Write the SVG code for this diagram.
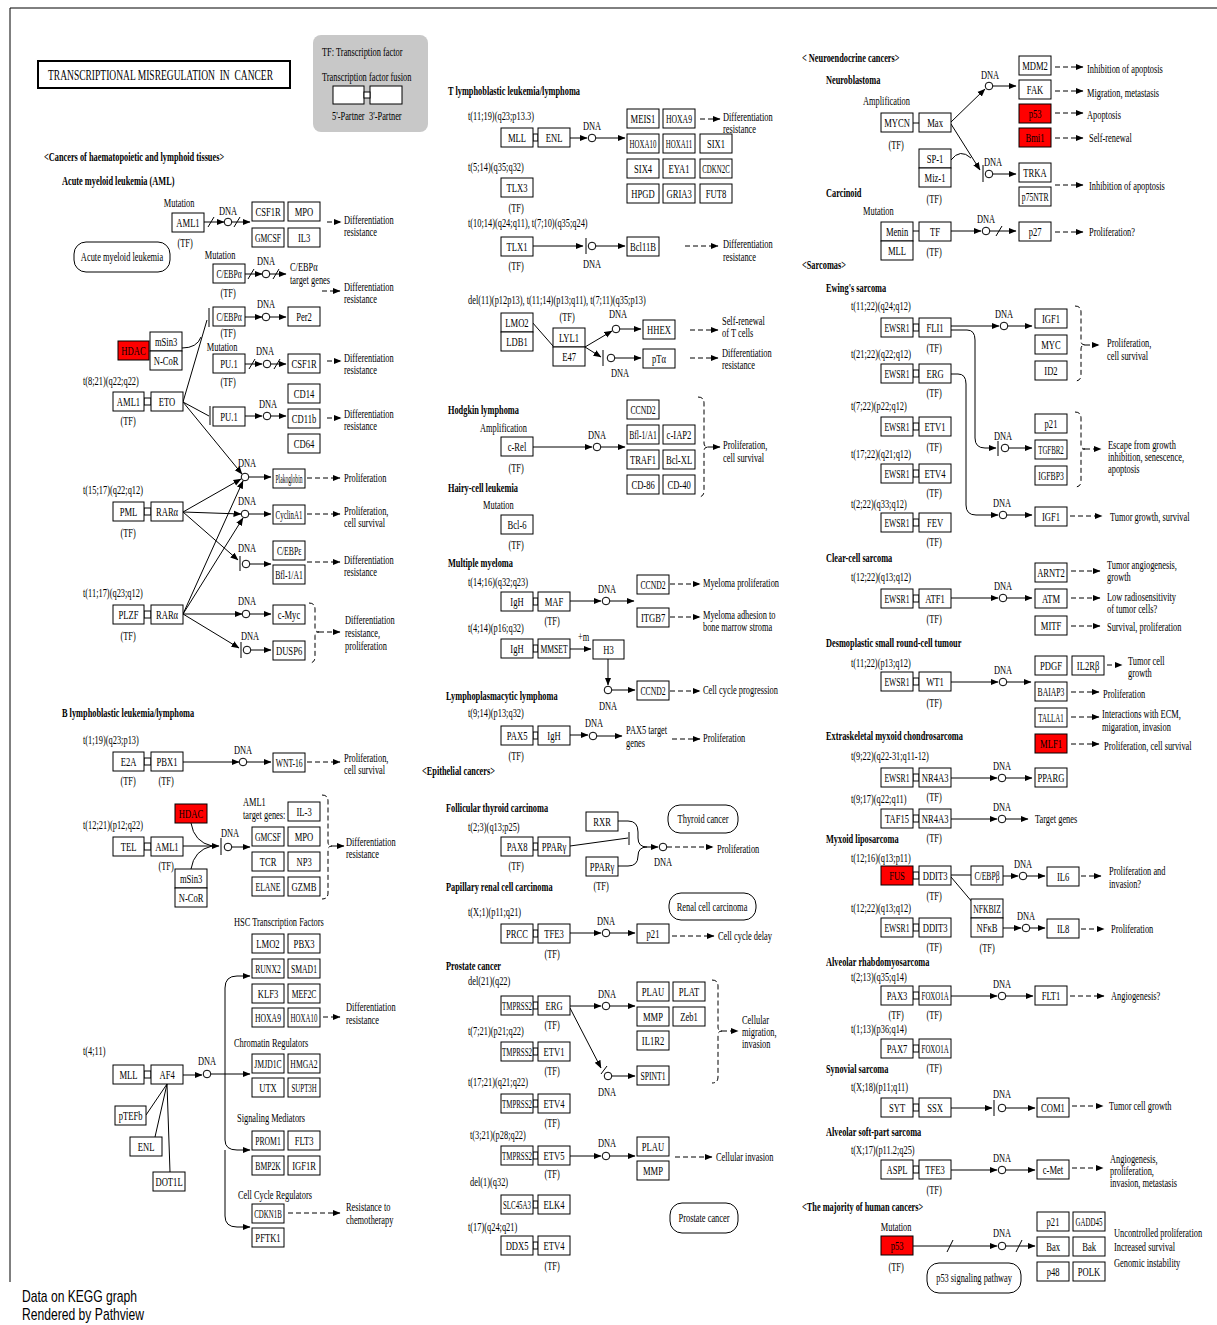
<svg xmlns="http://www.w3.org/2000/svg" width="1217" height="1325" viewBox="0 0 1217 1325">
<style>
text{font-family:"Liberation Serif","Times New Roman",serif;font-size:13px;fill:#000}
.bx{fill:#fff;stroke:#000;stroke-width:1}
.rd{fill:#f00;stroke:#000;stroke-width:1}
.g,.c{text-anchor:middle;transform-box:fill-box;transform-origin:50% 50%;transform:scaleX(.645)}
.g{transform:scaleX(.66)}
.g.k{transform:scaleX(.59)}
.g.kk{transform:scaleX(.53)}
.g.kkk{transform:scaleX(.43)}
.t{transform-box:fill-box;transform-origin:0 50%;transform:scaleX(.645)}
.h{font-weight:bold;transform-box:fill-box;transform-origin:0 50%;transform:scaleX(.64)}
.ttl{font-size:15px;transform-box:fill-box;transform-origin:0 50%;transform:scaleX(.635)}
.ln{fill:none;stroke:#000;stroke-width:1}
.ar{fill:none;stroke:#000;stroke-width:1;marker-end:url(#ah)}
.da{fill:none;stroke:#000;stroke-width:1;stroke-dasharray:5 3;marker-end:url(#ah)}
.br{fill:none;stroke:#000;stroke-width:1;stroke-dasharray:5 3}
.dn{fill:#fff;stroke:#000;stroke-width:1}
.fu{fill:#fff;stroke:#000;stroke-width:1}
.pill{fill:#fff;stroke:#000;stroke-width:1}
</style>
<defs>
<marker id="ah" viewBox="0 0 8 8" markerWidth="8" markerHeight="8" refX="7.5" refY="4" orient="auto" markerUnits="userSpaceOnUse"><path d="M0,0.8 L8,4 L0,7.2z" fill="#000"/></marker>
</defs>
<rect width="1217" height="1325" fill="#fff"/>
<path class="ln" d="M10,8 H1217 M10,8 V1282"/>

<!-- header: title and legend -->
<g id="title">
<rect x="38" y="61" width="252" height="27" fill="#fff" stroke="#000" stroke-width="2"/>
<text class="ttl" x="48" y="80" xml:space="preserve">TRANSCRIPTIONAL MISREGULATION  IN  CANCER</text>
</g>
<g id="legend">
<rect x="313" y="35" width="115" height="97" rx="8" fill="#c8c8c8"/>
<text class="t" x="322" y="56">TF: Transcription factor</text>
<text class="t" x="322" y="81">Transcription factor fusion</text>
<rect class="bx" x="333" y="86" width="31" height="18"/>
<rect class="bx" x="370" y="86" width="32" height="18"/>
<rect class="fu" x="364" y="92" width="6" height="6"/>
<text class="t" x="332" y="120">5'-Partner</text>
<text class="t" x="369" y="120">3'-Partner</text>
</g>

<!-- connectors -->
<g id="connectors">
<!-- AML -->
<path class="ar" d="M203,222 H224"/><path class="ln" d="M208,227 L214,217"/>
<circle class="dn" cx="228" cy="222" r="3.8"/>
<path class="ar" d="M232,222 H250"/><path class="ln" d="M234,227 L240,217"/>
<path class="da" d="M327,222 H341"/>
<path class="ar" d="M245,274 H262"/><path class="ln" d="M248,279 L254,269"/>
<circle class="dn" cx="266" cy="274" r="3.8"/>
<path class="ar" d="M270,274 H286"/><path class="ln" d="M273,279 L279,269"/>
<path class="da" d="M322,291 H340"/>
<path class="ar" d="M245,317 H262"/><circle class="dn" cx="266" cy="317" r="3.8"/><path class="ar" d="M270,317 H286"/>
<path class="ln" d="M182,348 Q197,348 201,337"/>
<path class="ln" d="M183,402 L207,320 M209,308 V327"/>
<path class="ar" d="M245,364 H262"/><path class="ln" d="M249,369 L255,359"/>
<circle class="dn" cx="267" cy="364" r="3.8"/>
<path class="ar" d="M271,364 H286"/><path class="ln" d="M274,369 L280,359"/>
<path class="da" d="M327,361 H341"/>
<path class="ln" d="M183,402 L209,416 M210,406 V425"/>
<path class="ar" d="M245,416 H262"/><circle class="dn" cx="267" cy="416" r="3.8"/><path class="ar" d="M271,416 H286"/>
<path class="da" d="M327,418 H341"/>
<path class="ar" d="M183,402 L242,474"/>
<circle class="dn" cx="245" cy="477" r="3.8"/><path class="ar" d="M249,477 H271"/>
<path class="da" d="M307,478 H340"/>
<path class="ar" d="M183,512 L241,479"/>
<path class="ar" d="M183,512 L241,514"/>
<path class="ar" d="M183,512 L238,560"/>
<circle class="dn" cx="245" cy="514" r="3.8"/><path class="ar" d="M249,514 H271"/>
<path class="da" d="M307,514 H340"/>
<path class="ln" d="M240,556 V571"/><circle class="dn" cx="246" cy="564" r="3.8"/><path class="ar" d="M250,564 H271"/>
<path class="da" d="M307,562 H340"/>
<path class="ar" d="M183,614 L243,481"/>
<path class="ar" d="M183,614 L243,518"/>
<path class="ar" d="M183,614 H242"/>
<path class="ar" d="M183,614 L239,648"/>
<circle class="dn" cx="246" cy="614" r="3.8"/><path class="ar" d="M250,614 H271"/>
<path class="ln" d="M241,642 V658"/><circle class="dn" cx="247" cy="650" r="3.8"/><path class="ar" d="M251,650 H271"/>
<path class="br" d="M309,603 Q315,603 315,609 V628 Q315,632 319,632 Q315,632 315,636 V657 Q315,663 309,663"/>
<path class="da" d="M319,632 H340"/>
<!-- B lymphoblastic -->
<path class="ar" d="M183,762 H239"/><circle class="dn" cx="243" cy="762" r="3.8"/><path class="ar" d="M247,762 H271"/>
<path class="da" d="M307,762 H340"/>
<path class="ar" d="M183,846 H219"/>
<path class="ln" d="M191,823 Q194,842 212,846 M191,869 Q194,850 212,846 M221,838 V855"/>
<circle class="dn" cx="228" cy="847" r="3.8"/><path class="ar" d="M232,847 H250"/>
<path class="br" d="M322,795 Q328,795 328,801 V842 Q328,846 332,846 Q328,846 328,850 V893 Q328,899 322,899"/>
<path class="da" d="M332,846 H344"/>
<path class="da" d="M323,1017 H340"/>
<path class="ar" d="M183,1075 H202"/><circle class="dn" cx="207" cy="1074" r="3.8"/>
<path class="ar" d="M211,1074 H250"/>
<path class="ar" d="M225,1074 V988 Q225,976 237,976 H250"/>
<path class="ar" d="M225,1074 V1140 Q225,1150 237,1150 H250"/>
<path class="ar" d="M225,1150 V1216 Q225,1227 237,1227 H250"/>
<path class="ln" d="M167,1084 L146,1115 M167,1084 L155,1137 M167,1084 L170,1172"/>
<path class="da" d="M288,1213 H340"/>
<!-- T lymphoblastic -->
<path class="ar" d="M570,138 H587"/><circle class="dn" cx="592" cy="138" r="3.8"/><path class="ar" d="M596,138 H625"/>
<path class="da" d="M700,119 H720"/>
<path class="ar" d="M533,246 H583"/><path class="ln" d="M586,238 V254"/>
<circle class="dn" cx="592" cy="246" r="3.8"/><path class="ar" d="M596,246 H625"/>
<path class="da" d="M685,246 H718"/>
<path class="ln" d="M532,322 L553,346"/>
<path class="ar" d="M585,347 L612,331"/><circle class="dn" cx="616" cy="329" r="3.8"/><path class="ar" d="M620,329 H641"/>
<path class="ar" d="M585,347 L601,357"/><path class="ln" d="M603,350 V366"/>
<circle class="dn" cx="611" cy="358" r="3.8"/><path class="ar" d="M615,358 H641"/>
<path class="da" d="M690,330 H718"/><path class="da" d="M690,358 H718"/>
<!-- Hodgkin -->
<path class="ar" d="M533,447 H592"/><circle class="dn" cx="597" cy="447" r="3.8"/><path class="ar" d="M601,447 H625"/>
<path class="br" d="M698,397 Q704,397 704,403 V443 Q704,447 708,447 Q704,447 704,451 V491 Q704,497 698,497"/>
<path class="da" d="M708,447 H720"/>
<!-- Multiple myeloma -->
<path class="ar" d="M570,601 H601"/><circle class="dn" cx="606" cy="601" r="3.8"/><path class="ar" d="M610,601 H634"/>
<path class="da" d="M670,584 H700"/><path class="da" d="M670,617 H700"/>
<path class="ar" d="M570,649 H591"/>
<path class="ar" d="M608,659 V685"/><circle class="dn" cx="608" cy="690" r="3.8"/><path class="ar" d="M612,690 H635"/>
<path class="da" d="M670,691 H700"/>
<path class="ar" d="M570,735 H588"/><circle class="dn" cx="593" cy="736" r="3.8"/><path class="ar" d="M597,736 H622"/>
<path class="da" d="M672,739 H700"/>
<!-- Follicular thyroid -->
<path class="ln" d="M570,846 L628,838 M629,832 V845"/>
<path class="ln" d="M618,821 H628 Q638,821 638,832 V838 Q638,847 647,847 M618,866 H628 Q638,866 638,856 Q638,847 647,847"/>
<path class="ar" d="M647,847 H658"/><circle class="dn" cx="663" cy="847" r="3.8"/>
<path class="da" d="M667,847 H713"/>
<!-- Papillary renal -->
<path class="ar" d="M570,933 H601"/><circle class="dn" cx="606" cy="933" r="3.8"/><path class="ar" d="M610,933 H635"/>
<path class="da" d="M672,936 H714"/>
<!-- Prostate -->
<path class="ar" d="M570,1006 H601"/><circle class="dn" cx="606" cy="1006" r="3.8"/><path class="ar" d="M610,1006 H635"/>
<path class="ar" d="M570,1008 L601,1068"/><path class="ln" d="M601,1074 L607,1066"/>
<circle class="dn" cx="608" cy="1076" r="3.8"/><path class="ar" d="M612,1076 H635"/>
<path class="br" d="M712,980 Q718,980 718,986 V1027 Q718,1031 722,1031 Q718,1031 718,1035 V1077 Q718,1083 712,1083"/>
<path class="da" d="M722,1031 H738"/>
<path class="ar" d="M570,1156 H601"/><circle class="dn" cx="606" cy="1156" r="3.8"/><path class="ar" d="M610,1156 H635"/>
<path class="da" d="M675,1157 H712"/>
<!-- Neuroblastoma / carcinoid -->
<path class="ln" d="M913,123 H919"/>
<path class="ar" d="M951,122 L985,89"/><circle class="dn" cx="989" cy="86" r="3.8"/><path class="ar" d="M993,86 H1016"/>
<path class="ar" d="M951,124 L980,170"/><path class="ln" d="M983,165 V182"/>
<circle class="dn" cx="989" cy="174" r="3.8"/><path class="ar" d="M993,174 H1016"/>
<path class="ln" d="M951,160 Q960,148 971,158"/>
<path class="da" d="M1055,67 H1083"/><path class="da" d="M1055,91 H1083"/><path class="da" d="M1055,113 H1083"/><path class="da" d="M1055,138 H1083"/><path class="da" d="M1055,185 H1083"/>
<path class="ln" d="M913,231 H919"/>
<path class="ar" d="M951,231 H981"/><circle class="dn" cx="986" cy="231" r="3.8"/><path class="ar" d="M990,231 H1016"/>
<path class="ln" d="M996,236 L1002,226"/>
<path class="da" d="M1055,232 H1083"/>
<!-- Ewing -->
<path class="ar" d="M951,326 H999"/><circle class="dn" cx="1004" cy="326" r="3.8"/><path class="ar" d="M1008,326 H1032"/>
<path class="ar" d="M951,330 H967 Q975,330 975,340 V438 Q975,448 985,448 H996"/><path class="ln" d="M998,441 V456"/>
<circle class="dn" cx="1005" cy="448" r="3.8"/><path class="ar" d="M1009,448 H1032"/>
<path class="ar" d="M951,374 H958 Q966,374 966,384 V505 Q966,515 976,515 H998"/>
<circle class="dn" cx="1003" cy="515" r="3.8"/><path class="ar" d="M1007,515 H1032"/>
<path class="br" d="M1075,306 Q1081,306 1081,312 V341 Q1081,345 1085,345 Q1081,345 1081,349 V375 Q1081,381 1075,381"/>
<path class="da" d="M1085,345 H1099"/>
<path class="br" d="M1075,412 Q1081,412 1081,418 V445 Q1081,449 1085,449 Q1081,449 1081,453 V481 Q1081,487 1075,487"/>
<path class="da" d="M1085,449 H1101"/>
<path class="da" d="M1070,516 H1102"/>
<!-- Clear-cell -->
<path class="ar" d="M951,598 H998"/><circle class="dn" cx="1003" cy="598" r="3.8"/><path class="ar" d="M1007,598 H1032"/>
<path class="da" d="M1071,571 H1100"/><path class="da" d="M1071,598 H1100"/><path class="da" d="M1071,626 H1100"/>
<!-- Desmoplastic -->
<path class="ar" d="M951,682 H998"/><circle class="dn" cx="1003" cy="682" r="3.8"/><path class="ar" d="M1007,682 H1031"/>
<path class="da" d="M1107,665 H1122"/><path class="da" d="M1071,692 H1099"/><path class="da" d="M1071,717 H1099"/><path class="da" d="M1071,744 H1099"/>
<!-- Extraskeletal -->
<path class="ar" d="M951,778 H997"/><circle class="dn" cx="1002" cy="778" r="3.8"/><path class="ar" d="M1006,778 H1032"/>
<path class="ar" d="M951,819 H997"/><circle class="dn" cx="1002" cy="819" r="3.8"/><path class="ar" d="M1006,819 H1028"/>
<!-- Myxoid -->
<path class="ln" d="M951,875 H971 M951,877 L973,903"/>
<path class="ar" d="M1003,876 H1018"/><circle class="dn" cx="1023" cy="876" r="3.8"/><path class="ar" d="M1027,876 H1045"/>
<path class="da" d="M1081,876 H1101"/>
<path class="ar" d="M1003,928 H1021"/><circle class="dn" cx="1026" cy="928" r="3.8"/><path class="ar" d="M1030,928 H1045"/>
<path class="da" d="M1081,929 H1104"/>
<!-- Alveolar rhabdo / synovial / ASPS -->
<path class="ar" d="M951,996 H997"/><circle class="dn" cx="1002" cy="996" r="3.8"/><path class="ar" d="M1006,996 H1033"/>
<path class="da" d="M1070,996 H1104"/>
<path class="ar" d="M951,1108 H992"/><path class="ln" d="M994,1100 V1116"/>
<circle class="dn" cx="1002" cy="1108" r="3.8"/><path class="ar" d="M1006,1108 H1035"/>
<path class="da" d="M1072,1106 H1103"/>
<path class="ar" d="M951,1170 H997"/><circle class="dn" cx="1002" cy="1170" r="3.8"/><path class="ar" d="M1006,1170 H1035"/>
<path class="da" d="M1072,1168 H1103"/>
<!-- p53 -->
<path class="ar" d="M913,1246 H997"/><path class="ln" d="M947,1252 L953,1240"/>
<circle class="dn" cx="1002" cy="1246" r="3.8"/><path class="ar" d="M1006,1246 H1035"/>
<path class="ln" d="M1016,1252 L1022,1240"/>
</g>

<!-- fusion junctions -->
<g id="fusions">
<rect class="fu" x="144" y="398" width="7" height="7"/>
<rect class="fu" x="144" y="508" width="7" height="7"/>
<rect class="fu" x="144" y="611" width="7" height="7"/>
<rect class="fu" x="144" y="758" width="7" height="7"/>
<rect class="fu" x="144" y="843" width="7" height="7"/>
<rect class="fu" x="144" y="1071" width="7" height="7"/>
<rect class="fu" x="533" y="134" width="5" height="7"/>
<rect class="fu" x="533" y="598" width="5" height="7"/>
<rect class="fu" x="533" y="645" width="5" height="7"/>
<rect class="fu" x="533" y="732" width="5" height="7"/>
<rect class="fu" x="533" y="843" width="5" height="7"/>
<rect class="fu" x="533" y="930" width="5" height="7"/>
<rect class="fu" x="533" y="1002" width="5" height="7"/>
<rect class="fu" x="533" y="1048" width="5" height="7"/>
<rect class="fu" x="533" y="1100" width="5" height="7"/>
<rect class="fu" x="533" y="1152" width="5" height="7"/>
<rect class="fu" x="533" y="1201" width="5" height="7"/>
<rect class="fu" x="533" y="1242" width="5" height="7"/>
<rect class="fu" x="913" y="324" width="6" height="7"/>
<rect class="fu" x="913" y="370" width="6" height="7"/>
<rect class="fu" x="913" y="423" width="6" height="7"/>
<rect class="fu" x="913" y="470" width="6" height="7"/>
<rect class="fu" x="913" y="519" width="6" height="7"/>
<rect class="fu" x="913" y="595" width="6" height="7"/>
<rect class="fu" x="913" y="678" width="6" height="7"/>
<rect class="fu" x="913" y="774" width="6" height="7"/>
<rect class="fu" x="913" y="815" width="6" height="7"/>
<rect class="fu" x="913" y="872" width="6" height="7"/>
<rect class="fu" x="913" y="924" width="6" height="7"/>
<rect class="fu" x="913" y="992" width="6" height="7"/>
<rect class="fu" x="913" y="1045" width="6" height="7"/>
<rect class="fu" x="913" y="1104" width="6" height="7"/>
<rect class="fu" x="913" y="1166" width="6" height="7"/>
</g>

<!-- gene nodes: haematopoietic -->
<g id="nodes-left">
<g id="aml-aml1"><rect class="bx" x="172" y="213" width="32" height="19"/><text class="g" x="188" y="227">AML1</text></g>
<g id="aml-csf1r"><rect class="bx" x="252" y="202" width="32" height="19"/><text class="g" x="268" y="216">CSF1R</text></g>
<g id="aml-mpo"><rect class="bx" x="288" y="202" width="32" height="19"/><text class="g" x="304" y="216">MPO</text></g>
<g id="aml-gmcsf"><rect class="bx" x="252" y="228" width="32" height="19"/><text class="g k" x="268" y="242">GMCSF</text></g>
<g id="aml-il3"><rect class="bx" x="288" y="228" width="32" height="19"/><text class="g" x="304" y="242">IL3</text></g>
<g id="aml-cebpa1"><rect class="bx" x="213" y="264" width="32" height="19"/><text class="g k" x="229" y="278">C/EBPα</text></g>
<g id="aml-cebpa2"><rect class="bx" x="213" y="307" width="32" height="19"/><text class="g k" x="229" y="321">C/EBPα</text></g>
<g id="aml-per2"><rect class="bx" x="288" y="307" width="32" height="19"/><text class="g" x="304" y="321">Per2</text></g>
<g id="aml-hdac"><rect class="rd" x="118" y="341" width="31" height="19"/><text class="g" x="133.5" y="355">HDAC</text></g>
<g id="aml-msin3"><rect class="bx" x="150" y="332" width="32" height="19"/><text class="g" x="166" y="346">mSin3</text></g>
<g id="aml-ncor"><rect class="bx" x="150" y="351" width="32" height="19"/><text class="g" x="166" y="365">N-CoR</text></g>
<g id="aml-pu1a"><rect class="bx" x="213" y="354" width="32" height="19"/><text class="g" x="229" y="368">PU.1</text></g>
<g id="aml-csf1r2"><rect class="bx" x="288" y="354" width="32" height="19"/><text class="g" x="304" y="368">CSF1R</text></g>
<g id="aml-cd14"><rect class="bx" x="288" y="384" width="32" height="19"/><text class="g" x="304" y="398">CD14</text></g>
<g id="aml-cd11b"><rect class="bx" x="288" y="409" width="32" height="19"/><text class="g" x="304" y="423">CD11b</text></g>
<g id="aml-cd64"><rect class="bx" x="288" y="434" width="32" height="19"/><text class="g" x="304" y="448">CD64</text></g>
<g id="aml-pu1b"><rect class="bx" x="213" y="407" width="32" height="19"/><text class="g" x="229" y="421">PU.1</text></g>
<g id="aml-aml1b"><rect class="bx" x="113" y="392" width="31" height="19"/><text class="g" x="128.5" y="406">AML1</text></g>
<g id="aml-eto"><rect class="bx" x="151" y="392" width="32" height="19"/><text class="g" x="167" y="406">ETO</text></g>
<g id="aml-plakoglobin"><rect class="bx" x="273" y="469" width="32" height="19"/><text class="g kkk" x="289" y="483">Plakoglobin</text></g>
<g id="aml-pml"><rect class="bx" x="113" y="502" width="31" height="19"/><text class="g" x="128.5" y="516">PML</text></g>
<g id="aml-rara1"><rect class="bx" x="151" y="502" width="32" height="19"/><text class="g" x="167" y="516">RARα</text></g>
<g id="aml-cyclina1"><rect class="bx" x="273" y="505" width="32" height="19"/><text class="g kk" x="289" y="519">CyclinA1</text></g>
<g id="aml-cebpe"><rect class="bx" x="273" y="541" width="32" height="19"/><text class="g k" x="289" y="555">C/EBPε</text></g>
<g id="aml-bfl1"><rect class="bx" x="273" y="565" width="32" height="19"/><text class="g k" x="289" y="579">Bfl-1/A1</text></g>
<g id="aml-plzf"><rect class="bx" x="113" y="605" width="31" height="19"/><text class="g" x="128.5" y="619">PLZF</text></g>
<g id="aml-rara2"><rect class="bx" x="151" y="605" width="32" height="19"/><text class="g" x="167" y="619">RARα</text></g>
<g id="aml-cmyc"><rect class="bx" x="273" y="605" width="32" height="19"/><text class="g" x="289" y="619">c-Myc</text></g>
<g id="aml-dusp6"><rect class="bx" x="273" y="641" width="32" height="19"/><text class="g" x="289" y="655">DUSP6</text></g>
<g id="aml-map"><rect class="pill" x="74" y="242" width="96" height="30" rx="12"/><text class="c" x="122" y="261">Acute myeloid leukemia</text></g>

<g id="ball-e2a"><rect class="bx" x="113" y="752" width="31" height="19"/><text class="g" x="128.5" y="766">E2A</text></g>
<g id="ball-pbx1"><rect class="bx" x="151" y="752" width="32" height="19"/><text class="g" x="167" y="766">PBX1</text></g>
<g id="ball-wnt16"><rect class="bx" x="273" y="753" width="32" height="19"/><text class="g k" x="289" y="767">WNT-16</text></g>
<g id="ball-tel"><rect class="bx" x="113" y="837" width="31" height="19"/><text class="g" x="128.5" y="851">TEL</text></g>
<g id="ball-aml1"><rect class="bx" x="151" y="837" width="32" height="19"/><text class="g" x="167" y="851">AML1</text></g>
<g id="ball-hdac"><rect class="rd" x="175" y="804" width="32" height="19"/><text class="g" x="191" y="818">HDAC</text></g>
<g id="ball-msin3"><rect class="bx" x="175" y="869" width="32" height="19"/><text class="g" x="191" y="883">mSin3</text></g>
<g id="ball-ncor"><rect class="bx" x="175" y="888" width="32" height="19"/><text class="g" x="191" y="902">N-CoR</text></g>
<g id="ball-il3"><rect class="bx" x="288" y="802" width="32" height="19"/><text class="g" x="304" y="816">IL-3</text></g>
<g id="ball-gmcsf"><rect class="bx" x="252" y="827" width="32" height="19"/><text class="g k" x="268" y="841">GMCSF</text></g>
<g id="ball-mpo"><rect class="bx" x="288" y="827" width="32" height="19"/><text class="g" x="304" y="841">MPO</text></g>
<g id="ball-tcr"><rect class="bx" x="252" y="852" width="32" height="19"/><text class="g" x="268" y="866">TCR</text></g>
<g id="ball-np3"><rect class="bx" x="288" y="852" width="32" height="19"/><text class="g" x="304" y="866">NP3</text></g>
<g id="ball-elane"><rect class="bx" x="252" y="877" width="32" height="19"/><text class="g k" x="268" y="891">ELANE</text></g>
<g id="ball-gzmb"><rect class="bx" x="288" y="877" width="32" height="19"/><text class="g" x="304" y="891">GZMB</text></g>

<g id="mll-lmo2"><rect class="bx" x="252" y="934" width="32" height="19"/><text class="g" x="268" y="948">LMO2</text></g>
<g id="mll-pbx3"><rect class="bx" x="288" y="934" width="32" height="19"/><text class="g" x="304" y="948">PBX3</text></g>
<g id="mll-runx2"><rect class="bx" x="252" y="959" width="32" height="19"/><text class="g k" x="268" y="973">RUNX2</text></g>
<g id="mll-smad1"><rect class="bx" x="288" y="959" width="32" height="19"/><text class="g k" x="304" y="973">SMAD1</text></g>
<g id="mll-klf3"><rect class="bx" x="252" y="984" width="32" height="19"/><text class="g" x="268" y="998">KLF3</text></g>
<g id="mll-mef2c"><rect class="bx" x="288" y="984" width="32" height="19"/><text class="g k" x="304" y="998">MEF2C</text></g>
<g id="mll-hoxa9"><rect class="bx" x="252" y="1008" width="32" height="19"/><text class="g k" x="268" y="1022">HOXA9</text></g>
<g id="mll-hoxa10"><rect class="bx" x="288" y="1008" width="32" height="19"/><text class="g kk" x="304" y="1022">HOXA10</text></g>
<g id="mll-jmjd1c"><rect class="bx" x="252" y="1054" width="32" height="19"/><text class="g k" x="268" y="1068">JMJD1C</text></g>
<g id="mll-hmga2"><rect class="bx" x="288" y="1054" width="32" height="19"/><text class="g k" x="304" y="1068">HMGA2</text></g>
<g id="mll-utx"><rect class="bx" x="252" y="1078" width="32" height="19"/><text class="g" x="268" y="1092">UTX</text></g>
<g id="mll-supt3h"><rect class="bx" x="288" y="1078" width="32" height="19"/><text class="g kk" x="304" y="1092">SUPT3H</text></g>
<g id="mll-prom1"><rect class="bx" x="252" y="1131" width="32" height="19"/><text class="g k" x="268" y="1145">PROM1</text></g>
<g id="mll-flt3"><rect class="bx" x="288" y="1131" width="32" height="19"/><text class="g" x="304" y="1145">FLT3</text></g>
<g id="mll-bmp2k"><rect class="bx" x="252" y="1156" width="32" height="19"/><text class="g k" x="268" y="1170">BMP2K</text></g>
<g id="mll-igf1r"><rect class="bx" x="288" y="1156" width="32" height="19"/><text class="g" x="304" y="1170">IGF1R</text></g>
<g id="mll-cdkn1b"><rect class="bx" x="252" y="1204" width="32" height="19"/><text class="g kk" x="268" y="1218">CDKN1B</text></g>
<g id="mll-pftk1"><rect class="bx" x="252" y="1228" width="32" height="19"/><text class="g" x="268" y="1242">PFTK1</text></g>
<g id="mll-mll"><rect class="bx" x="113" y="1065" width="31" height="19"/><text class="g" x="128.5" y="1079">MLL</text></g>
<g id="mll-af4"><rect class="bx" x="151" y="1065" width="32" height="19"/><text class="g" x="167" y="1079">AF4</text></g>
<g id="mll-ptefb"><rect class="bx" x="115" y="1106" width="31" height="19"/><text class="g" x="130.5" y="1120">pTEFb</text></g>
<g id="mll-enl"><rect class="bx" x="130" y="1137" width="32" height="19"/><text class="g" x="146" y="1151">ENL</text></g>
<g id="mll-dot1l"><rect class="bx" x="153" y="1172" width="32" height="19"/><text class="g" x="169" y="1186">DOT1L</text></g>
</g>

<!-- gene nodes: lymphoid and epithelial -->
<g id="nodes-middle">
<g id="tall-mll"><rect class="bx" x="501" y="128" width="32" height="19"/><text class="g" x="517" y="142">MLL</text></g>
<g id="tall-enl"><rect class="bx" x="538" y="128" width="32" height="19"/><text class="g" x="554" y="142">ENL</text></g>
<g id="tall-meis1"><rect class="bx" x="627" y="109" width="32" height="19"/><text class="g" x="643" y="123">MEIS1</text></g>
<g id="tall-hoxa9"><rect class="bx" x="663" y="109" width="32" height="19"/><text class="g k" x="679" y="123">HOXA9</text></g>
<g id="tall-hoxa10"><rect class="bx" x="627" y="134" width="32" height="19"/><text class="g kk" x="643" y="148">HOXA10</text></g>
<g id="tall-hoxa11"><rect class="bx" x="663" y="134" width="32" height="19"/><text class="g kk" x="679" y="148">HOXA11</text></g>
<g id="tall-six1"><rect class="bx" x="700" y="134" width="32" height="19"/><text class="g" x="716" y="148">SIX1</text></g>
<g id="tall-six4"><rect class="bx" x="627" y="159" width="32" height="19"/><text class="g" x="643" y="173">SIX4</text></g>
<g id="tall-eya1"><rect class="bx" x="663" y="159" width="32" height="19"/><text class="g" x="679" y="173">EYA1</text></g>
<g id="tall-cdkn2c"><rect class="bx" x="700" y="159" width="32" height="19"/><text class="g kk" x="716" y="173">CDKN2C</text></g>
<g id="tall-hpgd"><rect class="bx" x="627" y="184" width="32" height="19"/><text class="g" x="643" y="198">HPGD</text></g>
<g id="tall-gria3"><rect class="bx" x="663" y="184" width="32" height="19"/><text class="g" x="679" y="198">GRIA3</text></g>
<g id="tall-fut8"><rect class="bx" x="700" y="184" width="32" height="19"/><text class="g" x="716" y="198">FUT8</text></g>
<g id="tall-tlx3"><rect class="bx" x="501" y="178" width="32" height="19"/><text class="g" x="517" y="192">TLX3</text></g>
<g id="tall-tlx1"><rect class="bx" x="501" y="237" width="32" height="19"/><text class="g" x="517" y="251">TLX1</text></g>
<g id="tall-bcl11b"><rect class="bx" x="627" y="237" width="32" height="19"/><text class="g" x="643" y="251">Bcl11B</text></g>
<g id="tall-lmo2"><rect class="bx" x="501" y="313" width="32" height="19"/><text class="g" x="517" y="327">LMO2</text></g>
<g id="tall-ldb1"><rect class="bx" x="501" y="332" width="32" height="19"/><text class="g" x="517" y="346">LDB1</text></g>
<g id="tall-lyl1"><rect class="bx" x="553" y="328" width="32" height="19"/><text class="g" x="569" y="342">LYL1</text></g>
<g id="tall-e47"><rect class="bx" x="553" y="347" width="32" height="19"/><text class="g" x="569" y="361">E47</text></g>
<g id="tall-hhex"><rect class="bx" x="643" y="320" width="32" height="19"/><text class="g" x="659" y="334">HHEX</text></g>
<g id="tall-pta"><rect class="bx" x="643" y="349" width="32" height="19"/><text class="g" x="659" y="363">pTα</text></g>

<g id="hl-crel"><rect class="bx" x="501" y="437" width="32" height="19"/><text class="g" x="517" y="451">c-Rel</text></g>
<g id="hl-ccnd2"><rect class="bx" x="627" y="400" width="32" height="19"/><text class="g k" x="643" y="414">CCND2</text></g>
<g id="hl-bfl1"><rect class="bx" x="627" y="425" width="32" height="19"/><text class="g k" x="643" y="439">Bfl-1/A1</text></g>
<g id="hl-ciap2"><rect class="bx" x="663" y="425" width="32" height="19"/><text class="g" x="679" y="439">c-IAP2</text></g>
<g id="hl-traf1"><rect class="bx" x="627" y="450" width="32" height="19"/><text class="g" x="643" y="464">TRAF1</text></g>
<g id="hl-bclxl"><rect class="bx" x="663" y="450" width="32" height="19"/><text class="g" x="679" y="464">Bcl-XL</text></g>
<g id="hl-cd86"><rect class="bx" x="627" y="475" width="32" height="19"/><text class="g" x="643" y="489">CD-86</text></g>
<g id="hl-cd40"><rect class="bx" x="663" y="475" width="32" height="19"/><text class="g" x="679" y="489">CD-40</text></g>
<g id="hcl-bcl6"><rect class="bx" x="501" y="515" width="32" height="19"/><text class="g" x="517" y="529">Bcl-6</text></g>

<g id="mm-igh1"><rect class="bx" x="501" y="592" width="32" height="19"/><text class="g" x="517" y="606">IgH</text></g>
<g id="mm-maf"><rect class="bx" x="538" y="592" width="32" height="19"/><text class="g" x="554" y="606">MAF</text></g>
<g id="mm-ccnd2a"><rect class="bx" x="637" y="575" width="32" height="19"/><text class="g k" x="653" y="589">CCND2</text></g>
<g id="mm-itgb7"><rect class="bx" x="637" y="608" width="32" height="19"/><text class="g" x="653" y="622">ITGB7</text></g>
<g id="mm-igh2"><rect class="bx" x="501" y="639" width="32" height="19"/><text class="g" x="517" y="653">IgH</text></g>
<g id="mm-mmset"><rect class="bx" x="538" y="639" width="32" height="19"/><text class="g k" x="554" y="653">MMSET</text></g>
<g id="mm-h3"><rect class="bx" x="593" y="640" width="31" height="19"/><text class="g" x="608.5" y="654">H3</text></g>
<g id="mm-ccnd2b"><rect class="bx" x="637" y="681" width="32" height="19"/><text class="g k" x="653" y="695">CCND2</text></g>
<g id="lpl-pax5"><rect class="bx" x="501" y="726" width="32" height="19"/><text class="g" x="517" y="740">PAX5</text></g>
<g id="lpl-igh"><rect class="bx" x="538" y="726" width="32" height="19"/><text class="g" x="554" y="740">IgH</text></g>

<g id="ftc-pax8"><rect class="bx" x="501" y="837" width="32" height="19"/><text class="g" x="517" y="851">PAX8</text></g>
<g id="ftc-pparg1"><rect class="bx" x="538" y="837" width="32" height="19"/><text class="g" x="554" y="851">PPARγ</text></g>
<g id="ftc-rxr"><rect class="bx" x="586" y="812" width="32" height="19"/><text class="g" x="602" y="826">RXR</text></g>
<g id="ftc-pparg2"><rect class="bx" x="586" y="857" width="32" height="19"/><text class="g" x="602" y="871">PPARγ</text></g>
<g id="ftc-map"><rect class="pill" x="668" y="805" width="70" height="28" rx="12"/><text class="c" x="703" y="823">Thyroid cancer</text></g>
<g id="rcc-prcc"><rect class="bx" x="501" y="924" width="32" height="19"/><text class="g" x="517" y="938">PRCC</text></g>
<g id="rcc-tfe3"><rect class="bx" x="538" y="924" width="32" height="19"/><text class="g" x="554" y="938">TFE3</text></g>
<g id="rcc-p21"><rect class="bx" x="637" y="924" width="32" height="19"/><text class="g" x="653" y="938">p21</text></g>
<g id="rcc-map"><rect class="pill" x="669" y="893" width="87" height="27" rx="12"/><text class="c" x="712" y="911">Renal cell carcinoma</text></g>

<g id="pc-tmprss2a"><rect class="bx" x="501" y="996" width="32" height="19"/><text class="g kk" x="517" y="1010">TMPRSS2</text></g>
<g id="pc-erg"><rect class="bx" x="538" y="996" width="32" height="19"/><text class="g" x="554" y="1010">ERG</text></g>
<g id="pc-plau1"><rect class="bx" x="637" y="982" width="32" height="19"/><text class="g" x="653" y="996">PLAU</text></g>
<g id="pc-plat"><rect class="bx" x="673" y="982" width="32" height="19"/><text class="g" x="689" y="996">PLAT</text></g>
<g id="pc-mmp1"><rect class="bx" x="637" y="1007" width="32" height="19"/><text class="g" x="653" y="1021">MMP</text></g>
<g id="pc-zeb1"><rect class="bx" x="673" y="1007" width="32" height="19"/><text class="g" x="689" y="1021">Zeb1</text></g>
<g id="pc-il1r2"><rect class="bx" x="637" y="1031" width="32" height="19"/><text class="g" x="653" y="1045">IL1R2</text></g>
<g id="pc-spint1"><rect class="bx" x="637" y="1066" width="32" height="19"/><text class="g k" x="653" y="1080">SPINT1</text></g>
<g id="pc-tmprss2b"><rect class="bx" x="501" y="1042" width="32" height="19"/><text class="g kk" x="517" y="1056">TMPRSS2</text></g>
<g id="pc-etv1"><rect class="bx" x="538" y="1042" width="32" height="19"/><text class="g" x="554" y="1056">ETV1</text></g>
<g id="pc-tmprss2c"><rect class="bx" x="501" y="1094" width="32" height="19"/><text class="g kk" x="517" y="1108">TMPRSS2</text></g>
<g id="pc-etv4a"><rect class="bx" x="538" y="1094" width="32" height="19"/><text class="g" x="554" y="1108">ETV4</text></g>
<g id="pc-tmprss2d"><rect class="bx" x="501" y="1146" width="32" height="19"/><text class="g kk" x="517" y="1160">TMPRSS2</text></g>
<g id="pc-etv5"><rect class="bx" x="538" y="1146" width="32" height="19"/><text class="g" x="554" y="1160">ETV5</text></g>
<g id="pc-plau2"><rect class="bx" x="637" y="1137" width="32" height="19"/><text class="g" x="653" y="1151">PLAU</text></g>
<g id="pc-mmp2"><rect class="bx" x="637" y="1161" width="32" height="19"/><text class="g" x="653" y="1175">MMP</text></g>
<g id="pc-slc45a3"><rect class="bx" x="501" y="1195" width="32" height="19"/><text class="g kk" x="517" y="1209">SLC45A3</text></g>
<g id="pc-elk4"><rect class="bx" x="538" y="1195" width="32" height="19"/><text class="g" x="554" y="1209">ELK4</text></g>
<g id="pc-ddx5"><rect class="bx" x="501" y="1236" width="32" height="19"/><text class="g" x="517" y="1250">DDX5</text></g>
<g id="pc-etv4b"><rect class="bx" x="538" y="1236" width="32" height="19"/><text class="g" x="554" y="1250">ETV4</text></g>
<g id="pc-map"><rect class="pill" x="670" y="1203" width="68" height="30" rx="12"/><text class="c" x="704" y="1222">Prostate cancer</text></g>
</g>

<!-- gene nodes: neuroendocrine, sarcomas, p53 -->
<g id="nodes-right">
<g id="nb-mycn"><rect class="bx" x="881" y="113" width="32" height="19"/><text class="g" x="897" y="127">MYCN</text></g>
<g id="nb-max"><rect class="bx" x="919" y="113" width="32" height="19"/><text class="g" x="935" y="127">Max</text></g>
<g id="nb-sp1"><rect class="bx" x="919" y="149" width="32" height="19"/><text class="g" x="935" y="163">SP-1</text></g>
<g id="nb-miz1"><rect class="bx" x="919" y="168" width="32" height="19"/><text class="g" x="935" y="182">Miz-1</text></g>
<g id="nb-mdm2"><rect class="bx" x="1019" y="56" width="32" height="19"/><text class="g" x="1035" y="70">MDM2</text></g>
<g id="nb-fak"><rect class="bx" x="1019" y="80" width="32" height="19"/><text class="g" x="1035" y="94">FAK</text></g>
<g id="nb-p53"><rect class="rd" x="1019" y="104" width="32" height="19"/><text class="g" x="1035" y="118">p53</text></g>
<g id="nb-bmi1"><rect class="rd" x="1019" y="128" width="32" height="19"/><text class="g" x="1035" y="142">Bmi1</text></g>
<g id="nb-trka"><rect class="bx" x="1019" y="163" width="32" height="19"/><text class="g" x="1035" y="177">TRKA</text></g>
<g id="nb-p75ntr"><rect class="bx" x="1019" y="187" width="32" height="19"/><text class="g k" x="1035" y="201">p75NTR</text></g>
<g id="cd-menin"><rect class="bx" x="881" y="222" width="32" height="19"/><text class="g" x="897" y="236">Menin</text></g>
<g id="cd-mll"><rect class="bx" x="881" y="241" width="32" height="19"/><text class="g" x="897" y="255">MLL</text></g>
<g id="cd-tf"><rect class="bx" x="919" y="222" width="32" height="19"/><text class="g" x="935" y="236">TF</text></g>
<g id="cd-p27"><rect class="bx" x="1019" y="222" width="32" height="19"/><text class="g" x="1035" y="236">p27</text></g>

<g id="es-ewsr1a"><rect class="bx" x="881" y="318" width="32" height="19"/><text class="g k" x="897" y="332">EWSR1</text></g>
<g id="es-fli1"><rect class="bx" x="919" y="318" width="32" height="19"/><text class="g" x="935" y="332">FLI1</text></g>
<g id="es-igf1a"><rect class="bx" x="1035" y="309" width="32" height="19"/><text class="g" x="1051" y="323">IGF1</text></g>
<g id="es-myc"><rect class="bx" x="1035" y="335" width="32" height="19"/><text class="g" x="1051" y="349">MYC</text></g>
<g id="es-id2"><rect class="bx" x="1035" y="361" width="32" height="19"/><text class="g" x="1051" y="375">ID2</text></g>
<g id="es-ewsr1b"><rect class="bx" x="881" y="364" width="32" height="19"/><text class="g k" x="897" y="378">EWSR1</text></g>
<g id="es-erg"><rect class="bx" x="919" y="364" width="32" height="19"/><text class="g" x="935" y="378">ERG</text></g>
<g id="es-ewsr1c"><rect class="bx" x="881" y="417" width="32" height="19"/><text class="g k" x="897" y="431">EWSR1</text></g>
<g id="es-etv1"><rect class="bx" x="919" y="417" width="32" height="19"/><text class="g" x="935" y="431">ETV1</text></g>
<g id="es-ewsr1d"><rect class="bx" x="881" y="464" width="32" height="19"/><text class="g k" x="897" y="478">EWSR1</text></g>
<g id="es-etv4"><rect class="bx" x="919" y="464" width="32" height="19"/><text class="g" x="935" y="478">ETV4</text></g>
<g id="es-ewsr1e"><rect class="bx" x="881" y="513" width="32" height="19"/><text class="g k" x="897" y="527">EWSR1</text></g>
<g id="es-fev"><rect class="bx" x="919" y="513" width="32" height="19"/><text class="g" x="935" y="527">FEV</text></g>
<g id="es-p21"><rect class="bx" x="1035" y="414" width="32" height="19"/><text class="g" x="1051" y="428">p21</text></g>
<g id="es-tgfbr2"><rect class="bx" x="1035" y="440" width="32" height="19"/><text class="g kk" x="1051" y="454">TGFBR2</text></g>
<g id="es-igfbp3"><rect class="bx" x="1035" y="466" width="32" height="19"/><text class="g k" x="1051" y="480">IGFBP3</text></g>
<g id="es-igf1b"><rect class="bx" x="1035" y="507" width="32" height="19"/><text class="g" x="1051" y="521">IGF1</text></g>

<g id="ccs-ewsr1"><rect class="bx" x="881" y="589" width="32" height="19"/><text class="g k" x="897" y="603">EWSR1</text></g>
<g id="ccs-atf1"><rect class="bx" x="919" y="589" width="32" height="19"/><text class="g" x="935" y="603">ATF1</text></g>
<g id="ccs-arnt2"><rect class="bx" x="1035" y="563" width="32" height="19"/><text class="g" x="1051" y="577">ARNT2</text></g>
<g id="ccs-atm"><rect class="bx" x="1035" y="589" width="32" height="19"/><text class="g" x="1051" y="603">ATM</text></g>
<g id="ccs-mitf"><rect class="bx" x="1035" y="616" width="32" height="19"/><text class="g" x="1051" y="630">MITF</text></g>
<g id="ds-ewsr1"><rect class="bx" x="881" y="672" width="32" height="19"/><text class="g k" x="897" y="686">EWSR1</text></g>
<g id="ds-wt1"><rect class="bx" x="919" y="672" width="32" height="19"/><text class="g" x="935" y="686">WT1</text></g>
<g id="ds-pdgf"><rect class="bx" x="1035" y="656" width="32" height="19"/><text class="g" x="1051" y="670">PDGF</text></g>
<g id="ds-il2rb"><rect class="bx" x="1072" y="656" width="32" height="19"/><text class="g" x="1088" y="670">IL2Rβ</text></g>
<g id="ds-baiap3"><rect class="bx" x="1035" y="682" width="32" height="19"/><text class="g k" x="1051" y="696">BAIAP3</text></g>
<g id="ds-talla1"><rect class="bx" x="1035" y="708" width="32" height="19"/><text class="g kk" x="1051" y="722">TALLA1</text></g>
<g id="ds-mlf1"><rect class="rd" x="1035" y="734" width="32" height="19"/><text class="g" x="1051" y="748">MLF1</text></g>
<g id="emc-ewsr1"><rect class="bx" x="881" y="768" width="32" height="19"/><text class="g k" x="897" y="782">EWSR1</text></g>
<g id="emc-nr4a3a"><rect class="bx" x="919" y="768" width="32" height="19"/><text class="g" x="935" y="782">NR4A3</text></g>
<g id="emc-pparg"><rect class="bx" x="1035" y="768" width="32" height="19"/><text class="g" x="1051" y="782">PPARG</text></g>
<g id="emc-taf15"><rect class="bx" x="881" y="809" width="32" height="19"/><text class="g" x="897" y="823">TAF15</text></g>
<g id="emc-nr4a3b"><rect class="bx" x="919" y="809" width="32" height="19"/><text class="g" x="935" y="823">NR4A3</text></g>
<g id="ml-fus"><rect class="rd" x="881" y="866" width="32" height="19"/><text class="g" x="897" y="880">FUS</text></g>
<g id="ml-ddit3a"><rect class="bx" x="919" y="866" width="32" height="19"/><text class="g" x="935" y="880">DDIT3</text></g>
<g id="ml-cebpb"><rect class="bx" x="971" y="866" width="32" height="19"/><text class="g k" x="987" y="880">C/EBPβ</text></g>
<g id="ml-il6"><rect class="bx" x="1047" y="867" width="32" height="19"/><text class="g" x="1063" y="881">IL6</text></g>
<g id="ml-nfkbiz"><rect class="bx" x="971" y="899" width="32" height="19"/><text class="g k" x="987" y="913">NFKBIZ</text></g>
<g id="ml-nfkb"><rect class="bx" x="971" y="918" width="32" height="19"/><text class="g" x="987" y="932">NFκB</text></g>
<g id="ml-il8"><rect class="bx" x="1047" y="919" width="32" height="19"/><text class="g" x="1063" y="933">IL8</text></g>
<g id="ml-ewsr1"><rect class="bx" x="881" y="918" width="32" height="19"/><text class="g k" x="897" y="932">EWSR1</text></g>
<g id="ml-ddit3b"><rect class="bx" x="919" y="918" width="32" height="19"/><text class="g" x="935" y="932">DDIT3</text></g>
<g id="ar-pax3"><rect class="bx" x="881" y="986" width="32" height="19"/><text class="g" x="897" y="1000">PAX3</text></g>
<g id="ar-foxo1a1"><rect class="bx" x="919" y="986" width="32" height="19"/><text class="g kk" x="935" y="1000">FOXO1A</text></g>
<g id="ar-flt1"><rect class="bx" x="1035" y="986" width="32" height="19"/><text class="g" x="1051" y="1000">FLT1</text></g>
<g id="ar-pax7"><rect class="bx" x="881" y="1039" width="32" height="19"/><text class="g" x="897" y="1053">PAX7</text></g>
<g id="ar-foxo1a2"><rect class="bx" x="919" y="1039" width="32" height="19"/><text class="g kk" x="935" y="1053">FOXO1A</text></g>
<g id="ss-syt"><rect class="bx" x="881" y="1098" width="32" height="19"/><text class="g" x="897" y="1112">SYT</text></g>
<g id="ss-ssx"><rect class="bx" x="919" y="1098" width="32" height="19"/><text class="g" x="935" y="1112">SSX</text></g>
<g id="ss-com1"><rect class="bx" x="1037" y="1098" width="32" height="19"/><text class="g" x="1053" y="1112">COM1</text></g>
<g id="asps-aspl"><rect class="bx" x="881" y="1160" width="32" height="19"/><text class="g" x="897" y="1174">ASPL</text></g>
<g id="asps-tfe3"><rect class="bx" x="919" y="1160" width="32" height="19"/><text class="g" x="935" y="1174">TFE3</text></g>
<g id="asps-cmet"><rect class="bx" x="1037" y="1160" width="32" height="19"/><text class="g" x="1053" y="1174">c-Met</text></g>
<g id="hc-p53"><rect class="rd" x="881" y="1236" width="32" height="19"/><text class="g" x="897" y="1250">p53</text></g>
<g id="hc-p21"><rect class="bx" x="1037" y="1212" width="32" height="19"/><text class="g" x="1053" y="1226">p21</text></g>
<g id="hc-gadd45"><rect class="bx" x="1073" y="1212" width="32" height="19"/><text class="g kk" x="1089" y="1226">GADD45</text></g>
<g id="hc-bax"><rect class="bx" x="1037" y="1237" width="32" height="19"/><text class="g" x="1053" y="1251">Bax</text></g>
<g id="hc-bak"><rect class="bx" x="1073" y="1237" width="32" height="19"/><text class="g" x="1089" y="1251">Bak</text></g>
<g id="hc-p48"><rect class="bx" x="1037" y="1262" width="32" height="19"/><text class="g" x="1053" y="1276">p48</text></g>
<g id="hc-polk"><rect class="bx" x="1073" y="1262" width="32" height="19"/><text class="g" x="1089" y="1276">POLK</text></g>
<g id="hc-map"><rect class="pill" x="927" y="1263" width="94" height="30" rx="12"/><text class="c" x="974" y="1282">p53 signaling pathway</text></g>
</g>

<!-- free labels -->
<g id="labels">
<text class="h" x="44" y="161">&lt;Cancers of haematopoietic and lymphoid tissues&gt;</text>
<text class="h" x="62" y="185">Acute myeloid leukemia (AML)</text>
<text class="c" x="179" y="207">Mutation</text>
<text class="c" x="185" y="247">(TF)</text>
<text class="c" x="228" y="215">DNA</text>
<text class="t" x="344" y="224">Differentiation</text><text class="t" x="344" y="236">resistance</text>
<text class="c" x="220" y="259">Mutation</text>
<text class="c" x="228" y="297">(TF)</text>
<text class="c" x="266" y="265">DNA</text>
<text class="t" x="290" y="271">C/EBPα</text><text class="t" x="290" y="284">target genes</text>
<text class="t" x="344" y="291">Differentiation</text><text class="t" x="344" y="303">resistance</text>
<text class="c" x="266" y="308">DNA</text>
<text class="c" x="228" y="337">(TF)</text>
<text class="c" x="222" y="351">Mutation</text>
<text class="c" x="265" y="355">DNA</text>
<text class="c" x="228" y="386">(TF)</text>
<text class="t" x="344" y="362">Differentiation</text><text class="t" x="344" y="374">resistance</text>
<text class="c" x="268" y="408">DNA</text>
<text class="t" x="344" y="418">Differentiation</text><text class="t" x="344" y="430">resistance</text>
<text class="t" x="83" y="385">t(8;21)(q22;q22)</text>
<text class="c" x="128" y="425">(TF)</text>
<text class="c" x="247" y="467">DNA</text>
<text class="t" x="344" y="482">Proliferation</text>
<text class="t" x="83" y="494">t(15;17)(q22;q12)</text>
<text class="c" x="128" y="537">(TF)</text>
<text class="c" x="247" y="505">DNA</text>
<text class="t" x="344" y="515">Proliferation,</text><text class="t" x="344" y="527">cell survival</text>
<text class="c" x="247" y="552">DNA</text>
<text class="t" x="344" y="564">Differentiation</text><text class="t" x="344" y="576">resistance</text>
<text class="t" x="83" y="597">t(11;17)(q23;q12)</text>
<text class="c" x="128" y="640">(TF)</text>
<text class="c" x="247" y="605">DNA</text>
<text class="c" x="250" y="640">DNA</text>
<text class="t" x="345" y="624">Differentiation</text><text class="t" x="345" y="637">resistance,</text><text class="t" x="345" y="650">proliferation</text>

<text class="h" x="62" y="717">B lymphoblastic leukemia/lymphoma</text>
<text class="t" x="83" y="744">t(1;19)(q23;p13)</text>
<text class="c" x="128" y="785">(TF)</text><text class="c" x="166" y="785">(TF)</text>
<text class="c" x="243" y="754">DNA</text>
<text class="t" x="344" y="762">Proliferation,</text><text class="t" x="344" y="774">cell survival</text>
<text class="t" x="83" y="829">t(12;21)(p12;q22)</text>
<text class="c" x="166" y="870">(TF)</text>
<text class="c" x="230" y="837">DNA</text>
<text class="t" x="243" y="806">AML1</text><text class="t" x="243" y="819">target genes:</text>
<text class="t" x="346" y="846">Differentiation</text><text class="t" x="346" y="858">resistance</text>
<text class="t" x="234" y="926">HSC Transcription Factors</text>
<text class="t" x="346" y="1011">Differentiation</text><text class="t" x="346" y="1024">resistance</text>
<text class="t" x="234" y="1047">Chromatin Regulators</text>
<text class="t" x="237" y="1122">Signaling Mediators</text>
<text class="t" x="238" y="1199">Cell Cycle Regulators</text>
<text class="t" x="346" y="1211">Resistance to</text><text class="t" x="346" y="1224">chemotherapy</text>
<text class="t" x="83" y="1055">t(4;11)</text>
<text class="c" x="207" y="1065">DNA</text>

<text class="h" x="448" y="95">T lymphoblastic leukemia/lymphoma</text>
<text class="t" x="468" y="120">t(11;19)(q23;p13.3)</text>
<text class="c" x="592" y="130">DNA</text>
<text class="t" x="723" y="121">Differentiation</text><text class="t" x="723" y="133">resistance</text>
<text class="t" x="468" y="171">t(5;14)(q35;q32)</text>
<text class="c" x="516" y="212">(TF)</text>
<text class="t" x="468" y="227">t(10;14)(q24;q11), t(7;10)(q35;q24)</text>
<text class="c" x="516" y="270">(TF)</text>
<text class="c" x="592" y="268">DNA</text>
<text class="t" x="723" y="248">Differentiation</text><text class="t" x="723" y="261">resistance</text>
<text class="t" x="468" y="304">del(11)(p12p13), t(11;14)(p13;q11), t(7;11)(q35;p13)</text>
<text class="c" x="567" y="321">(TF)</text>
<text class="c" x="618" y="318">DNA</text>
<text class="c" x="620" y="377">DNA</text>
<text class="t" x="722" y="325">Self-renewal</text><text class="t" x="722" y="337">of T cells</text>
<text class="t" x="722" y="357">Differentiation</text><text class="t" x="722" y="369">resistance</text>
<text class="h" x="448" y="414">Hodgkin lymphoma</text>
<text class="t" x="480" y="432">Amplification</text>
<text class="c" x="516" y="472">(TF)</text>
<text class="c" x="597" y="439">DNA</text>
<text class="t" x="723" y="449">Proliferation,</text><text class="t" x="723" y="462">cell survival</text>
<text class="h" x="448" y="492">Hairy-cell leukemia</text>
<text class="t" x="483" y="509">Mutation</text>
<text class="c" x="516" y="549">(TF)</text>
<text class="h" x="448" y="567">Multiple myeloma</text>
<text class="t" x="468" y="586">t(14;16)(q32;q23)</text>
<text class="c" x="552" y="625">(TF)</text>
<text class="c" x="607" y="593">DNA</text>
<text class="t" x="703" y="587">Myeloma proliferation</text>
<text class="t" x="703" y="619">Myeloma adhesion to</text><text class="t" x="703" y="631">bone marrow stroma</text>
<text class="t" x="468" y="632">t(4;14)(p16;q32)</text>
<text class="t" x="578" y="641">+m</text>
<text class="c" x="608" y="710">DNA</text>
<text class="t" x="703" y="694">Cell cycle progression</text>
<text class="h" x="446" y="700">Lymphoplasmacytic lymphoma</text>
<text class="t" x="468" y="717">t(9;14)(p13;q32)</text>
<text class="c" x="516" y="760">(TF)</text>
<text class="c" x="594" y="727">DNA</text>
<text class="t" x="626" y="734">PAX5 target</text><text class="t" x="626" y="747">genes</text>
<text class="t" x="703" y="742">Proliferation</text>
<text class="h" x="422" y="775">&lt;Epithelial cancers&gt;</text>
<text class="h" x="446" y="812">Follicular thyroid carcinoma</text>
<text class="t" x="468" y="831">t(2;3)(q13;p25)</text>
<text class="c" x="516" y="870">(TF)</text>
<text class="c" x="601" y="890">(TF)</text>
<text class="c" x="663" y="866">DNA</text>
<text class="t" x="717" y="853">Proliferation</text>
<text class="h" x="446" y="891">Papillary renal cell carcinoma</text>
<text class="t" x="468" y="916">t(X;1)(p11;q21)</text>
<text class="c" x="552" y="958">(TF)</text>
<text class="c" x="606" y="925">DNA</text>
<text class="t" x="718" y="940">Cell cycle delay</text>
<text class="h" x="446" y="970">Prostate cancer</text>
<text class="t" x="468" y="985">del(21)(q22)</text>
<text class="c" x="552" y="1029">(TF)</text>
<text class="c" x="607" y="998">DNA</text>
<text class="t" x="742" y="1024">Cellular</text><text class="t" x="742" y="1036">migration,</text><text class="t" x="742" y="1048">invasion</text>
<text class="c" x="607" y="1096">DNA</text>
<text class="t" x="468" y="1035">t(7;21)(p21;q22)</text>
<text class="c" x="552" y="1075">(TF)</text>
<text class="t" x="468" y="1086">t(17;21)(q21;q22)</text>
<text class="c" x="552" y="1127">(TF)</text>
<text class="t" x="470" y="1139">t(3;21)(p28;q22)</text>
<text class="c" x="552" y="1178">(TF)</text>
<text class="c" x="607" y="1147">DNA</text>
<text class="t" x="716" y="1161">Cellular invasion</text>
<text class="t" x="470" y="1186">del(1)(q32)</text>
<text class="t" x="468" y="1231">t(17)(q24;q21)</text>
<text class="c" x="552" y="1270">(TF)</text>

<text class="h" x="802" y="62">&lt; Neuroendocrine cancers&gt;</text>
<text class="h" x="826" y="84">Neuroblastoma</text>
<text class="t" x="863" y="105">Amplification</text>
<text class="c" x="896" y="149">(TF)</text>
<text class="c" x="934" y="203">(TF)</text>
<text class="c" x="990" y="79">DNA</text>
<text class="c" x="993" y="166">DNA</text>
<text class="t" x="1087" y="73">Inhibition of apoptosis</text>
<text class="t" x="1087" y="97">Migration, metastasis</text>
<text class="t" x="1087" y="119">Apoptosis</text>
<text class="t" x="1089" y="142">Self-renewal</text>
<text class="t" x="1089" y="190">Inhibition of apoptosis</text>
<text class="h" x="826" y="197">Carcinoid</text>
<text class="t" x="863" y="215">Mutation</text>
<text class="c" x="934" y="256">(TF)</text>
<text class="c" x="986" y="223">DNA</text>
<text class="t" x="1089" y="236">Proliferation?</text>
<text class="h" x="802" y="269">&lt;Sarcomas&gt;</text>
<text class="h" x="826" y="292">Ewing's sarcoma</text>
<text class="t" x="851" y="310">t(11;22)(q24;q12)</text>
<text class="c" x="934" y="352">(TF)</text>
<text class="c" x="1004" y="318">DNA</text>
<text class="t" x="1107" y="347">Proliferation,</text><text class="t" x="1107" y="360">cell survival</text>
<text class="t" x="851" y="358">t(21;22)(q22;q12)</text>
<text class="c" x="934" y="397">(TF)</text>
<text class="t" x="851" y="410">t(7;22)(p22;q12)</text>
<text class="c" x="934" y="451">(TF)</text>
<text class="c" x="1003" y="440">DNA</text>
<text class="t" x="1108" y="449">Escape from growth</text><text class="t" x="1108" y="461">inhibition, senescence,</text><text class="t" x="1108" y="473">apoptosis</text>
<text class="t" x="851" y="458">t(17;22)(q21;q12)</text>
<text class="c" x="934" y="497">(TF)</text>
<text class="t" x="851" y="508">t(2;22)(q33;q12)</text>
<text class="c" x="934" y="546">(TF)</text>
<text class="c" x="1002" y="507">DNA</text>
<text class="t" x="1110" y="521">Tumor growth, survival</text>
<text class="h" x="826" y="562">Clear-cell sarcoma</text>
<text class="t" x="851" y="581">t(12;22)(q13;q12)</text>
<text class="c" x="934" y="623">(TF)</text>
<text class="c" x="1003" y="590">DNA</text>
<text class="t" x="1107" y="569">Tumor angiogenesis,</text><text class="t" x="1107" y="581">growth</text>
<text class="t" x="1107" y="601">Low radiosensitivity</text><text class="t" x="1107" y="613">of tumor cells?</text>
<text class="t" x="1107" y="631">Survival, proliferation</text>
<text class="h" x="826" y="647">Desmoplastic small round-cell tumour</text>
<text class="t" x="851" y="667">t(11;22)(p13;q12)</text>
<text class="c" x="934" y="707">(TF)</text>
<text class="c" x="1003" y="674">DNA</text>
<text class="t" x="1128" y="665">Tumor cell</text><text class="t" x="1128" y="677">growth</text>
<text class="t" x="1103" y="698">Proliferation</text>
<text class="t" x="1102" y="718">Interactions with ECM,</text><text class="t" x="1102" y="731">migaration, invasion</text>
<text class="t" x="1104" y="750">Proliferation, cell survival</text>
<text class="h" x="826" y="740">Extraskeletal myxoid chondrosarcoma</text>
<text class="t" x="851" y="760">t(9;22)(q22-31;q11-12)</text>
<text class="c" x="934" y="801">(TF)</text>
<text class="c" x="1002" y="770">DNA</text>
<text class="t" x="851" y="803">t(9;17)(q22;q11)</text>
<text class="c" x="934" y="842">(TF)</text>
<text class="c" x="1002" y="811">DNA</text>
<text class="t" x="1035" y="823">Target genes</text>
<text class="h" x="826" y="843">Myxoid liposarcoma</text>
<text class="t" x="851" y="862">t(12;16)(q13;p11)</text>
<text class="c" x="934" y="900">(TF)</text>
<text class="c" x="1023" y="868">DNA</text>
<text class="t" x="1109" y="875">Proliferation and</text><text class="t" x="1109" y="888">invasion?</text>
<text class="c" x="987" y="952">(TF)</text>
<text class="c" x="1026" y="920">DNA</text>
<text class="t" x="1111" y="933">Proliferation</text>
<text class="t" x="851" y="912">t(12;22)(q13;q12)</text>
<text class="c" x="934" y="951">(TF)</text>
<text class="h" x="826" y="966">Alveolar rhabdomyosarcoma</text>
<text class="t" x="851" y="981">t(2;13)(q35;q14)</text>
<text class="c" x="896" y="1019">(TF)</text><text class="c" x="934" y="1019">(TF)</text>
<text class="c" x="1002" y="988">DNA</text>
<text class="t" x="1111" y="1000">Angiogenesis?</text>
<text class="t" x="851" y="1033">t(1;13)(p36;q14)</text>
<text class="c" x="934" y="1072">(TF)</text>
<text class="h" x="826" y="1073">Synovial sarcoma</text>
<text class="t" x="851" y="1091">t(X;18)(p11;q11)</text>
<text class="c" x="1002" y="1098">DNA</text>
<text class="t" x="1109" y="1110">Tumor cell growth</text>
<text class="h" x="826" y="1136">Alveolar soft-part sarcoma</text>
<text class="t" x="851" y="1154">t(X;17)(p11.2;q25)</text>
<text class="c" x="934" y="1194">(TF)</text>
<text class="c" x="1002" y="1162">DNA</text>
<text class="t" x="1110" y="1163">Angiogenesis,</text><text class="t" x="1110" y="1175">proliferation,</text><text class="t" x="1110" y="1187">invasion, metastasis</text>
<text class="h" x="802" y="1211">&lt;The majority of human cancers&gt;</text>
<text class="c" x="896" y="1231">Mutation</text>
<text class="c" x="896" y="1271">(TF)</text>
<text class="c" x="1002" y="1237">DNA</text>
<text class="t" x="1114" y="1237">Uncontrolled proliferation</text>
<text class="t" x="1114" y="1251">Increased survival</text>
<text class="t" x="1114" y="1267">Genomic instability</text>
</g>

<g id="credit">
<text x="22" y="1302" style="font-family:'Liberation Sans',Arial,sans-serif;font-size:17px" textLength="115" lengthAdjust="spacingAndGlyphs">Data on KEGG graph</text>
<text x="22" y="1320" style="font-family:'Liberation Sans',Arial,sans-serif;font-size:17px" textLength="122" lengthAdjust="spacingAndGlyphs">Rendered by Pathview</text>
</g>
</svg>
